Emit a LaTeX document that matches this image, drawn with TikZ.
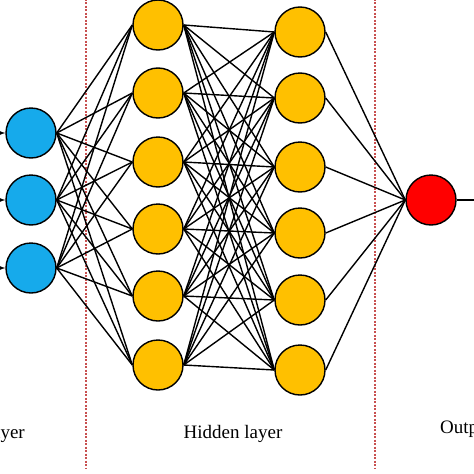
\documentclass[tikz,border=0pt]{standalone}
\usepackage{fontspec}
\setmainfont{Liberation Serif}
\usetikzlibrary{calc}
\definecolor{inblue}{RGB}{22,170,235}
\definecolor{hidgold}{RGB}{255,192,0}
\definecolor{sepred}{RGB}{200,80,80}
\tikzset{
	neuron/.style={circle, draw=black, line width=1.4pt, inner sep=0pt, minimum size=50pt},
	synapse/.style={line width=1.4pt, color=black},
	layerlabel/.style={font=\fontsize{19}{22}\selectfont, inner sep=0pt}
}

\begin{document}
\begin{tikzpicture}[x=1pt, y=-1pt]
			%%%%% START %%%%%
			
			\useasboundingbox (0, 0) rectangle (474, 474);
			\clip (0, 0) rectangle (474, 474);
			
			\draw[line width=1.1pt, color=sepred, dash pattern=on 2pt off 1.5pt] (86, -5) -- (86, 468);
			\draw[line width=1.1pt, color=sepred, dash pattern=on 2pt off 1.5pt] (375, -5) -- (375, 468);
			
			\node[neuron, fill=inblue] (in1) at (31, 133) {};
			\node[neuron, fill=inblue] (in2) at (31, 200) {};
			\node[neuron, fill=inblue] (in3) at (31, 268) {};
			
			\node[neuron, fill=hidgold] (ha1) at (158, 25) {};
			\node[neuron, fill=hidgold] (ha2) at (158, 93) {};
			\node[neuron, fill=hidgold] (ha3) at (158, 162) {};
			\node[neuron, fill=hidgold] (ha4) at (158, 229) {};
			\node[neuron, fill=hidgold] (ha5) at (158, 296) {};
			\node[neuron, fill=hidgold] (ha6) at (158, 365) {};
			
			\node[neuron, fill=hidgold] (hb1) at (300, 32) {};
			\node[neuron, fill=hidgold] (hb2) at (300, 98) {};
			\node[neuron, fill=hidgold] (hb3) at (300, 167) {};
			\node[neuron, fill=hidgold] (hb4) at (300, 233) {};
			\node[neuron, fill=hidgold] (hb5) at (300, 300) {};
			\node[neuron, fill=hidgold] (hb6) at (300, 370) {};
			
			\node[neuron, fill=red] (out) at (431, 200) {};
			
			\coordinate (x1) at (-12, 133);
			\coordinate (x2) at (-12, 200);
			\coordinate (x3) at (-12, 268);
			\coordinate (y) at (490, 200);
			
			\foreach \i in {1,2,3}
				\draw[synapse, -latex] (x\i) -- (in\i.west);
			
			\foreach \i in {1,2,3}
				\foreach \j in {1,...,6}
					\draw[synapse] (in\i.east) -- (ha\j.west);
			
			\foreach \i in {1,...,6}
				\foreach \j in {1,...,6}
					\draw[synapse] (ha\i.east) -- (hb\j.west);
			
			\foreach \i in {1,...,6}
				\draw[synapse] (hb\i.east) -- (out.west);
			
			\draw[synapse] (out.east) -- (y);
			
			\node[layerlabel, anchor=base east] (inlabel) at (25, 438) {Input layer};
			\node[layerlabel, anchor=base] (hidlabel) at (233, 438) {Hidden layer};
			\node[layerlabel, anchor=base west] (outlabel) at (440, 433) {Output layer};
			
			%%%%% END %%%%%
		\end{tikzpicture}
\end{document}
